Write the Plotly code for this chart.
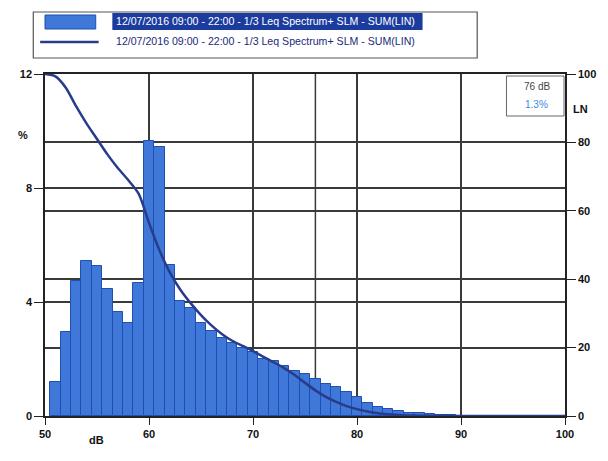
import plotly.graph_objects as go

# ---- data ----
bar_db = list(range(51, 90))
bar_pct = [1.2, 2.95, 4.75, 5.45, 5.25, 4.45, 3.65, 3.25, 4.65, 9.65,
           9.45, 5.3, 4.05, 3.8, 3.25, 3.0, 2.75, 2.55, 2.4, 2.25,
           2.0, 1.93, 1.75, 1.58, 1.47, 1.3, 1.13, 1.02, 0.85, 0.68,
           0.45, 0.33, 0.25, 0.17, 0.12, 0.09, 0.06, 0.04, 0.03]

ln_db = [50, 51, 52, 53, 54, 55, 56, 57, 58, 59, 60, 61, 62, 63, 64, 65, 66, 67, 68, 69,
         70, 71, 72, 73, 74, 75, 76, 77, 78, 79, 80, 81, 82, 83, 84, 85, 86, 88, 90, 100]
ln_val = [100, 99.3, 96, 90.5, 85.5, 81, 76.5, 72.5, 69, 65, 56.5, 48.5, 42, 37, 33, 29.5, 26.5, 24, 22, 20.5,
          19, 17.3, 15.7, 14, 12, 9.7, 7.5, 5.6, 4.1, 2.9, 2, 1.3, 0.8, 0.5, 0.3, 0.18, 0.1, 0.04, 0, 0]

x_ticks = [50, 60, 70, 80, 90, 100]
pct_ticks = [0, 4, 8, 12]
ln_ticks = [0, 20, 40, 60, 80, 100]

series_name = "12/07/2016 09:00 - 22:00 - 1/3 Leq Spectrum+ SLM - SUM(LIN)"
cursor_db = 76
cursor_txt = "76 dB"
cursor_val = "1.3%"

# ---- layout geometry ----
W, H = 608, 461
L, R, T, B = 45, 30, 74, 45
PW, PH = W - L - R, H - T - B


def px(x):
    return (x - L) / PW


def py(y):
    return (H - B - y) / PH


FONT = "Liberation Sans, Arial, sans-serif"
GRID = "#3a3a3a"

fig = go.Figure()
fig.add_trace(go.Bar(
    x=bar_db, y=bar_pct, width=1.0,
    marker=dict(color="#3f78d8", line=dict(color="#1f4fb0", width=1)),
    name=series_name, showlegend=False, yaxis="y"))
fig.add_trace(go.Scatter(
    x=ln_db, y=ln_val, mode="lines",
    line=dict(color="#283c8c", width=2.5, shape="spline", smoothing=0.8),
    name=series_name, showlegend=False, yaxis="y2"))

shapes = []
# cursor line
shapes.append(dict(type="line", xref="x", yref="paper", x0=cursor_db, x1=cursor_db, y0=0, y1=1,
                   line=dict(color=GRID, width=1.5), layer="below"))
# legend box
shapes.append(dict(type="rect", xref="paper", yref="paper", x0=px(33), x1=px(488), y0=py(58), y1=py(12),
                   line=dict(color="#555", width=1.2), fillcolor="white"))
# highlight behind first legend text
shapes.append(dict(type="rect", xref="paper", yref="paper", x0=px(114), x1=px(432), y0=py(30), y1=py(13),
                   line=dict(width=0), fillcolor="#1b3c9e"))
# bar swatch
shapes.append(dict(type="rect", xref="paper", yref="paper", x0=px(45), x1=px(97), y0=py(29), y1=py(15),
                   line=dict(color="#1f4fb0", width=1), fillcolor="#3f78d8"))
# line swatch
shapes.append(dict(type="line", xref="paper", yref="paper", x0=px(40), x1=px(100), y0=py(42), y1=py(42),
                   line=dict(color="#283c8c", width=2.5)))
# cursor readout box
shapes.append(dict(type="rect", xref="paper", yref="paper", x0=px(518), x1=px(577), y0=py(116), y1=py(76),
                   line=dict(color="#666", width=1), fillcolor="white"))

annotations = [
    dict(x=px(116), y=py(21), xref="paper", yref="paper", text=series_name, showarrow=False,
         xanchor="left", yanchor="middle", font=dict(family=FONT, size=10.6, color="white")),
    dict(x=px(116), y=py(41), xref="paper", yref="paper", text=series_name, showarrow=False,
         xanchor="left", yanchor="middle", font=dict(family=FONT, size=10.6, color="#1a2a7a")),
    dict(x=px(549), y=py(86), xref="paper", yref="paper", text=cursor_txt, showarrow=False,
         xanchor="center", yanchor="middle", font=dict(family=FONT, size=10, color="#444")),
    dict(x=px(549), y=py(104), xref="paper", yref="paper", text=cursor_val, showarrow=False,
         xanchor="center", yanchor="middle", font=dict(family=FONT, size=10, color="#3d8be0")),
    dict(x=px(22), y=py(135), xref="paper", yref="paper", text="<b>%</b>", showarrow=False,
         xanchor="center", yanchor="middle", font=dict(family=FONT, size=11, color="#111")),
    dict(x=px(594), y=py(109), xref="paper", yref="paper", text="<b>LN</b>", showarrow=False,
         xanchor="center", yanchor="middle", font=dict(family=FONT, size=11, color="#111")),
    dict(x=px(98), y=py(440), xref="paper", yref="paper", text="<b>dB</b>", showarrow=False,
         xanchor="center", yanchor="middle", font=dict(family=FONT, size=11, color="#111")),
]

fig.update_layout(
    width=W, height=H, margin=dict(l=L, r=R, t=T, b=B),
    paper_bgcolor="white", plot_bgcolor="white",
    bargap=0, showlegend=False,
    font=dict(family=FONT, size=11, color="#111"),
    xaxis=dict(range=[50, 100], tickvals=x_ticks, ticktext=[f"<b>{v}</b>" for v in x_ticks],
               ticks="outside", ticklen=7, tickcolor="#222", tickwidth=1.2,
               showgrid=True, gridcolor=GRID, gridwidth=1.5,
               showline=True, linecolor="#222", linewidth=1.5, mirror=True,
               zeroline=False, layer="below traces"),
    yaxis=dict(range=[0, 12], tickvals=pct_ticks, ticktext=[f"<b>{v}</b>" for v in pct_ticks],
               ticks="outside", ticklen=9, tickcolor="#222", tickwidth=1.2,
               showgrid=True, gridcolor=GRID, gridwidth=1.5,
               showline=True, linecolor="#222", linewidth=1.5,
               zeroline=False),
    yaxis2=dict(range=[0, 100], tickvals=ln_ticks, ticktext=[f"<b>{v}</b>" for v in ln_ticks],
                overlaying="y", side="right",
                ticks="outside", ticklen=9, tickcolor="#222", tickwidth=1.2,
                showgrid=True, gridcolor=GRID, gridwidth=1.5,
                showline=True, linecolor="#222", linewidth=1.5,
                zeroline=False),
    shapes=shapes, annotations=annotations,
)

fig.write_html("out.html")
